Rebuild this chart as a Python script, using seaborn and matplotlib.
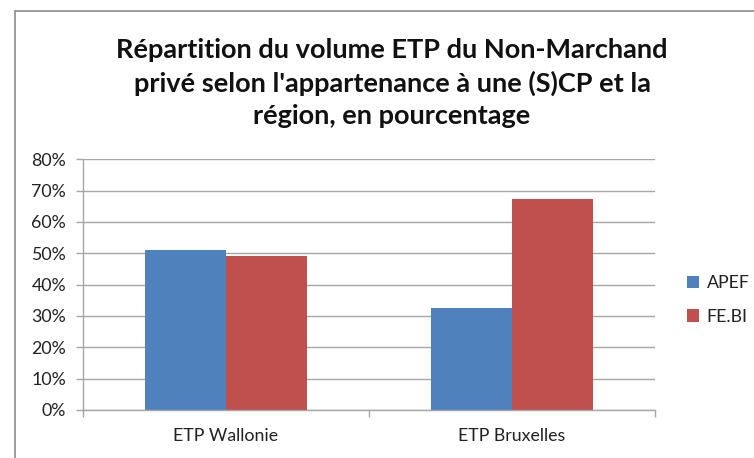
import matplotlib
matplotlib.use("Agg")
import matplotlib.pyplot as plt
import seaborn as sns
import pandas as pd
from matplotlib.patches import Patch
from matplotlib.lines import Line2D
from matplotlib.ticker import PercentFormatter

categories = ["ETP Wallonie", "ETP Bruxelles"]
series_names = ["APEF", "FE.BI"]
apef = [0.509, 0.327]
febi = [0.491, 0.673]
colors = ["#4F81BD", "#C0504D"]
title = "Répartition du volume ETP du Non-Marchand\nprivé selon l'appartenance à une (S)CP et la\nrégion, en pourcentage"

df = pd.DataFrame({
    "cat": categories * 2,
    "serie": [series_names[0]] * 2 + [series_names[1]] * 2,
    "val": apef + febi,
})

sns.set_style("white")
plt.rcParams["font.family"] = ["Lato", "DejaVu Sans"]

fig = plt.figure(figsize=(7.54, 4.58), dpi=100)
ax = fig.add_axes([82.7 / 754, 1 - 410 / 458, (655 - 82.7) / 754, (410 - 159.3) / 458])

sns.barplot(data=df, x="cat", y="val", hue="serie", order=categories,
            hue_order=series_names, palette=colors, width=0.567, gap=0,
            saturation=1, ax=ax, legend=False, linewidth=0)

ax.set_ylim(0, 0.8)
ax.set_xlim(-0.5, 1.5)
ax.set_yticks([i / 10 for i in range(9)])
ax.yaxis.set_major_formatter(PercentFormatter(1.0, decimals=0))
ax.set_xlabel("")
ax.set_ylabel("")
ax.yaxis.grid(True, color="#A6A6A6", linewidth=1)
ax.set_axisbelow(True)
for s in ["top", "right"]:
    ax.spines[s].set_visible(False)
for s in ["left", "bottom"]:
    ax.spines[s].set_color("#A6A6A6")
    ax.spines[s].set_linewidth(1)
ax.tick_params(axis="y", which="major", length=5, color="#A6A6A6", width=1,
               labelsize=12.8, pad=7, labelcolor="#222222", direction="out", left=True)
ax.tick_params(axis="x", which="major", length=0, labelsize=12.8, pad=13, labelcolor="#222222")
ax.set_xticks([-0.5, 0.5, 1.5], minor=True)
ax.tick_params(axis="x", which="minor", length=5, color="#A6A6A6", width=1, direction="out", bottom=True)

fig.text(392 / 754, 1 - 83 / 458, title, ha="center", va="center", fontsize=19.5,
         fontweight="bold", color="#111111", linespacing=1.42)

handles = [Patch(facecolor=c, edgecolor="none") for c in colors]
fig.legend(handles, series_names, loc="center left", bbox_to_anchor=(687 / 754, 1 - 300 / 458),
           frameon=False, fontsize=12.8, handlelength=0.7, handleheight=0.7, handletextpad=0.4,
           labelspacing=1.0, labelcolor="#222222", borderpad=0, borderaxespad=0)

fig.add_artist(Line2D([15 / 754, 15 / 754], [0, 1 - 11 / 458], transform=fig.transFigure,
                      color="#8C8C8C", linewidth=1.2))
fig.add_artist(Line2D([15 / 754, 1], [1 - 11 / 458, 1 - 11 / 458], transform=fig.transFigure,
                      color="#8C8C8C", linewidth=1.2))

fig.savefig("out.png", dpi=100)
